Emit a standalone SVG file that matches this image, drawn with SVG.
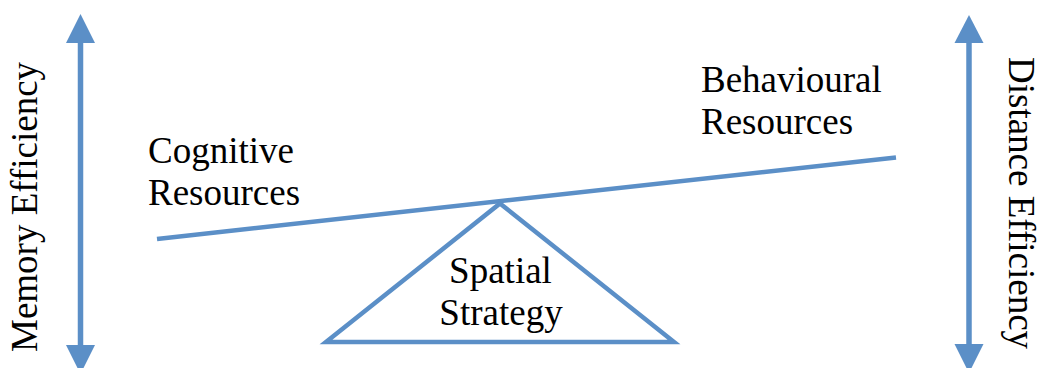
<svg xmlns="http://www.w3.org/2000/svg" width="1042" height="368" viewBox="0 0 1042 368">
  <style>
    .lbl { font-family: 'Liberation Serif', 'DejaVu Serif', serif; font-size: 37px; fill: #000; }
    .ln { stroke: #5B8FC7; stroke-width: 4.5; fill: none; }
    .shaft { stroke: #5B8FC7; stroke-width: 5.5; fill: none; }
    .head { fill: #5B8FC7; }
  </style>
  <rect width="1042" height="368" fill="#fff"/>

  <!-- double-headed scale arrows on both sides -->
  <g id="connectors">
    <g id="memory-arrow">
      <line class="shaft" x1="80.5" y1="40" x2="80.5" y2="348"/>
      <polygon class="head" points="80.5,14 95,43 66,43"/>
      <polygon class="head" points="80.5,374 95,345 66,345"/>
    </g>
    <g id="distance-arrow">
      <line class="shaft" x1="969" y1="40" x2="969" y2="348"/>
      <polygon class="head" points="969,15 983.5,43 954.5,43"/>
      <polygon class="head" points="969,373 983.5,344 954.5,344"/>
    </g>
  </g>

  <!-- balance beam -->
  <g id="beam">
    <line class="ln" x1="157" y1="239" x2="896" y2="157.5"/>
  </g>

  <!-- fulcrum -->
  <g id="fulcrum">
    <polygon class="ln" points="500,203.5 674,342 326,342" stroke-linejoin="miter"/>
    <text class="lbl" text-anchor="middle" x="500.5" y="283">Spatial</text>
    <text class="lbl" text-anchor="middle" x="501" y="325">Strategy</text>
  </g>

  <g id="cognitive">
    <text class="lbl" x="148" y="163">Cognitive</text>
    <text class="lbl" x="148" y="205">Resources</text>
  </g>

  <g id="behavioural">
    <text class="lbl" x="701" y="92">Behavioural</text>
    <text class="lbl" x="701" y="134">Resources</text>
  </g>

  <g id="memory-label">
    <text class="lbl" transform="translate(37,352) rotate(-90)">Memory Efficiency</text>
  </g>

  <g id="distance-label">
    <text class="lbl" transform="translate(1009,57) rotate(90)">Distance Efficiency</text>
  </g>
</svg>
